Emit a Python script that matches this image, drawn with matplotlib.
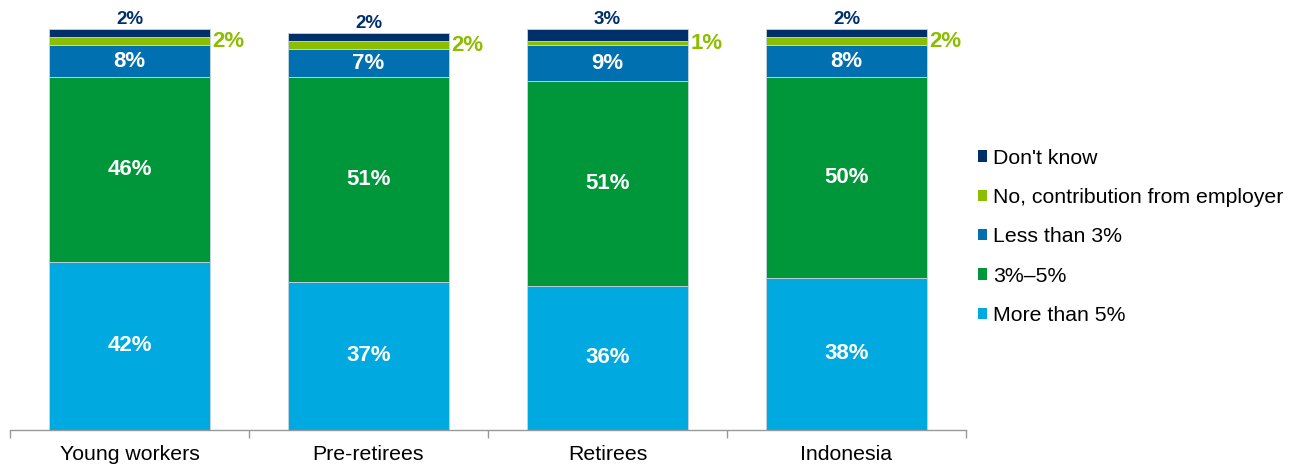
import numpy as np
import matplotlib.pyplot as plt
from matplotlib.patches import Patch

plt.rcParams['font.family'] = ['Liberation Sans', 'DejaVu Sans']

groups = ['Young workers', 'Pre-retirees', 'Retirees', 'Indonesia']
more_than_5 = [42, 37, 36, 38]
between_3_5 = [46, 51, 51, 50]
less_than_3 = [8, 7, 9, 8]
no_contribution = [2, 2, 1, 2]
dont_know = [2, 2, 3, 2]

series_names = ['More than 5%', '3%\u20135%', 'Less than 3%',
                'No, contribution from employer', "Don't know"]
colors = ['#00a9e0', '#00963a', '#0070b0', '#8cbd00', '#00306a']

series = [more_than_5, between_3_5, less_than_3, no_contribution, dont_know]

fig = plt.figure(figsize=(12.96, 4.67), dpi=100, facecolor='w')
ax = fig.add_axes([10/1296, 37/467, 956/1296, 401/467])

x = np.arange(len(groups))
width = 0.67
bottom = np.zeros(len(groups))
for vals, col in zip(series, colors):
    vals = np.array(vals, dtype=float)
    ax.bar(x, vals, width, bottom=bottom, color=col,
           edgecolor='#c8d4e0', linewidth=0.6, zorder=2)
    bottom += vals

# value labels
base = np.zeros(len(groups))
for k, (vals, col) in enumerate(zip(series, colors)):
    for i, v in enumerate(vals):
        mid = base[i] + v / 2
        if k <= 2:
            ax.text(x[i], mid, f'{v}%', ha='center', va='center',
                    color='white', fontsize=16, fontweight='bold')
        elif k == 3:
            ax.text(x[i] + width / 2 + 0.012, mid, f'{v}%', ha='left',
                    va='center', color=col, fontsize=16, fontweight='bold')
        else:
            ax.text(x[i], base[i] + v + 0.2, f'{v}%', ha='center',
                    va='bottom', color=col, fontsize=13.5, fontweight='bold')
    base += np.array(vals, dtype=float)

ax.set_xlim(-0.5, 3.5)
ax.set_ylim(0, 100)
for s in ['top', 'right', 'left']:
    ax.spines[s].set_visible(False)
ax.spines['bottom'].set_color('#999999')
ax.spines['bottom'].set_linewidth(1)
ax.set_yticks([])
ax.set_xticks(x)
ax.set_xticklabels(groups, fontsize=15.3)
ax.tick_params(axis='x', which='major', length=0, pad=11)
ax.set_xticks(np.arange(-0.5, 4, 1), minor=True)
ax.tick_params(axis='x', which='minor', length=6, width=1, color='#999999',
               direction='out')

handles = [Patch(facecolor=c, edgecolor='none') for c in colors][::-1]
fig.legend(handles, series_names[::-1], loc='upper left',
           bbox_to_anchor=(969/1296, 1 - 140/467), frameon=False,
           fontsize=15.3, handlelength=0.45, handleheight=0.45,
           handletextpad=0.28, labelspacing=0.96, borderaxespad=0)

fig.savefig('out.png', dpi=100, facecolor='w')
